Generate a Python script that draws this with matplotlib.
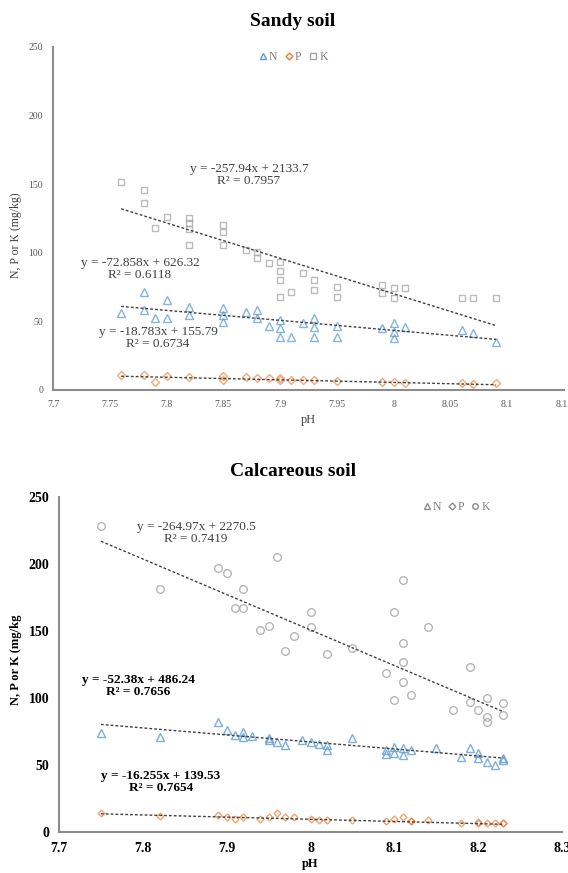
import numpy as np
import matplotlib.pyplot as plt
from matplotlib.lines import Line2D

plt.rcParams['font.family'] = ['Liberation Serif', 'DejaVu Serif']

W, H = 568, 873

# ---------------- Sandy soil ----------------
sandy_ph_n = [7.76, 7.78, 7.78, 7.79, 7.80, 7.80, 7.82, 7.82, 7.85, 7.85, 7.85, 7.87, 7.88, 7.88,
              7.89, 7.90, 7.90, 7.90, 7.91, 7.92, 7.93, 7.93, 7.93, 7.95, 7.95, 7.99, 8.00, 8.00,
              8.00, 8.01, 8.06, 8.07, 8.09]
sandy_n = [56, 71.6, 58, 52.5, 65.6, 52.5, 60.5, 55, 59.5, 55, 49.6, 57, 58, 52.5,
           47, 51, 45, 38.6, 38.6, 48.8, 52.5, 46, 38.6, 47, 38.6, 45, 48.8, 42.5,
           38, 46, 43.7, 41.5, 35]

sandy_ph_p = [7.76, 7.78, 7.79, 7.80, 7.82, 7.85, 7.85, 7.87, 7.88, 7.89, 7.90, 7.90, 7.91,
              7.92, 7.93, 7.95, 7.99, 8.00, 8.01, 8.06, 8.07, 8.09]
sandy_p = [11, 11, 6, 10, 9.5, 10, 7, 9.5, 9, 9, 8.5, 7, 7,
           7.3, 7, 6.5, 6, 5.8, 5, 5, 4.5, 5]

sandy_ph_k = [7.76, 7.78, 7.78, 7.79, 7.80, 7.82, 7.82, 7.82, 7.82, 7.85, 7.85, 7.85, 7.87,
              7.88, 7.88, 7.89, 7.90, 7.90, 7.90, 7.90, 7.91, 7.92, 7.93, 7.93, 7.95, 7.95,
              7.99, 7.99, 8.00, 8.00, 8.01, 8.06, 8.07, 8.09]
sandy_k = [151.6, 146, 136, 118, 126, 125, 122, 117, 106, 120, 115, 106, 102,
           100.6, 96, 92.5, 93, 87, 80, 68, 71.6, 85, 80, 73, 75, 68,
           76.5, 71, 74, 67, 74, 67, 67, 67]

# trendline coefficients (slope, intercept) and R² as printed
sandy_fit = {'N': (-72.858, 626.32, 0.6118),
             'P': (-18.783, 155.79, 0.6734),
             'K': (-257.94, 2133.7, 0.7957)}

# ---------------- Calcareous soil ----------------
calc_ph_n = [7.75, 7.82, 7.89, 7.90, 7.91, 7.92, 7.92, 7.93, 7.95, 7.95, 7.96, 7.97, 7.99,
             8.00, 8.01, 8.02, 8.02, 8.05, 8.09, 8.09, 8.10, 8.10, 8.11, 8.11, 8.12, 8.15,
             8.18, 8.19, 8.20, 8.20, 8.21, 8.22, 8.23, 8.23]
calc_n = [73.6, 71, 82, 76, 72.4, 74.8, 71, 72, 70, 68.7, 67, 65, 68.7,
          67, 66, 65, 61, 70, 61, 58, 63.7, 59, 57.5, 62.5, 61, 62.5,
          56, 62.5, 58.6, 55, 52.5, 50, 53.7, 55]

calc_ph_p = [7.75, 7.82, 7.89, 7.90, 7.91, 7.92, 7.94, 7.95, 7.96, 7.97, 7.98, 8.00, 8.01,
             8.02, 8.05, 8.09, 8.10, 8.11, 8.12, 8.12, 8.14, 8.18, 8.20, 8.20, 8.21, 8.22,
             8.23, 8.23]
calc_p = [14, 12, 12.7, 11, 10, 11.5, 10, 11.5, 14, 11, 11.4, 10, 9,
          9, 9, 8.2, 9.5, 11.4, 8, 8, 9, 7, 7, 7.5, 6.7, 7,
          6.7, 7]

calc_ph_k = [7.75, 7.82, 7.89, 7.90, 7.92, 7.91, 7.92, 7.96, 7.94, 7.95, 7.97, 7.98, 8.11,
             8.10, 8.00, 8.00, 8.14, 8.02, 8.05, 8.11, 8.11, 8.09, 8.11, 8.10, 8.12, 8.19,
             8.17, 8.19, 8.20, 8.21, 8.21, 8.21, 8.23, 8.23]
calc_k = [228, 181, 197, 193, 181, 167, 167, 205, 151, 154, 135, 146, 188,
          164, 164, 153, 153, 133, 137, 141, 127, 119, 112, 98.5, 102, 123,
          91, 97, 91, 86, 82, 100, 87, 96]

calc_fit = {'N': (-52.38, 486.24, 0.7656),
            'P': (-16.255, 139.53, 0.7654),
            'K': (-264.97, 2270.5, 0.7419)}

BLUE = '#5b9bd5'
ORANGE = '#ed7d31'
GRAY = '#a5a5a5'


def fx(px):
    return px / W


def fy(py):
    return 1 - py / H


def trend(ax, xs, fit):
    m, b, _ = fit
    xx = np.array([min(xs), max(xs)])
    ax.plot(xx, m * xx + b, color='#404040', lw=1.0, ls=(0, (2, 1.5)), zorder=3)


def style_axes(ax, xlim, xticks, xlabels, bold, tcolor, tsize):
    ax.set_xlim(*xlim)
    ax.set_ylim(0, 250)
    ax.set_xticks(xticks)
    ax.set_xticklabels(xlabels)
    ax.set_yticks([0, 50, 100, 150, 200, 250])
    for s in ['top', 'right']:
        ax.spines[s].set_visible(False)
    for s in ['left', 'bottom']:
        ax.spines[s].set_color('#8c8c8c')
        ax.spines[s].set_linewidth(1.5)
    ax.tick_params(length=0, pad=7, labelsize=tsize, colors=tcolor)
    w = 'bold' if bold else 'normal'
    for lab in ax.get_xticklabels() + ax.get_yticklabels():
        lab.set_fontweight(w)


fig = plt.figure(figsize=(W / 100, H / 100), dpi=100)

# ---- top panel ----
ax1 = fig.add_axes([fx(53), fy(390), fx(564) - fx(53), fy(47) - fy(390)])
ax1.plot(sandy_ph_k, sandy_k, ls='none', marker='s', ms=5, mfc='none', mec=GRAY, mew=1.0, alpha=0.75)
ax1.plot(sandy_ph_n, sandy_n, ls='none', marker='^', ms=5.5, mfc='none', mec=BLUE, mew=1.0, alpha=0.75)
ax1.plot(sandy_ph_p, sandy_p, ls='none', marker='D', ms=4.5, mfc='none', mec=ORANGE, mew=1.0, alpha=0.65)
trend(ax1, sandy_ph_k, sandy_fit['K'])
trend(ax1, sandy_ph_n, sandy_fit['N'])
trend(ax1, sandy_ph_p, sandy_fit['P'])
top_ticks = [7.7, 7.75, 7.8, 7.85, 7.9, 7.95, 8.0, 8.05, 8.1, 8.15]
style_axes(ax1, (7.7, 8.15), top_ticks,
           ['7.7', '7.75', '7.8', '7.85', '7.9', '7.95', '8', '8.05', '8.1', '8.15'],
           False, '#595959', 7)
ax1.set_xlabel('pH', fontsize=9, color='#404040', labelpad=4)
fig.text(fx(16), fy(235), 'N, P or K (mg/kg)', rotation=90, ha='center', va='center',
         fontsize=8.5, color='#404040')
fig.text(fx(293), fy(22), 'Sandy soil', ha='center', va='center', fontsize=14, fontweight='bold')

eq_col = '#404040'
for (m, b, r2), (cx, cy) in [(sandy_fit['K'], (249, 175)),
                             (sandy_fit['N'], (140, 269)),
                             (sandy_fit['P'], (158, 338))]:
    fig.text(fx(cx), fy(cy), f'y = {m}x + {b}\nR² = {r2:.4f}', ha='center', va='center',
             fontsize=9.5, color=eq_col, linespacing=1.05)

handles = [Line2D([], [], ls='none', marker='^', ms=4, mfc='none', mec=BLUE, label='N'),
           Line2D([], [], ls='none', marker='D', ms=3.5, mfc='none', mec=ORANGE, label='P'),
           Line2D([], [], ls='none', marker='s', ms=4, mfc='none', mec=GRAY, label='K')]
leg = fig.legend(handles=handles, loc='center', bbox_to_anchor=(fx(293), fy(57)), ncol=3,
                 frameon=False, fontsize=8.5, handlelength=0.8, handletextpad=0.1,
                 columnspacing=0.6)
for t in leg.get_texts():
    t.set_color('#7f7f7f')

# ---- bottom panel ----
ax2 = fig.add_axes([fx(59), fy(832), fx(562) - fx(59), fy(497) - fy(832)])
ax2.plot(calc_ph_k, calc_k, ls='none', marker='o', ms=5.5, mfc='none', mec=GRAY, mew=1.0, alpha=0.8)
ax2.plot(calc_ph_n, calc_n, ls='none', marker='^', ms=5.5, mfc='none', mec=BLUE, mew=1.0, alpha=0.8)
ax2.plot(calc_ph_p, calc_p, ls='none', marker='D', ms=3.5, mfc='none', mec=ORANGE, mew=1.0, alpha=0.7)
trend(ax2, calc_ph_k, calc_fit['K'])
trend(ax2, calc_ph_n, calc_fit['N'])
trend(ax2, calc_ph_p, calc_fit['P'])
style_axes(ax2, (7.7, 8.3), [7.7, 7.8, 7.9, 8.0, 8.1, 8.2, 8.3],
           ['7.7', '7.8', '7.9', '8', '8.1', '8.2', '8.3'], True, 'black', 10)
ax2.set_xlabel('pH', fontsize=9, fontweight='bold', labelpad=2)
fig.text(fx(16), fy(660), 'N, P or K (mg/kg', rotation=90, ha='center', va='center',
         fontsize=9, fontweight='bold')
fig.text(fx(293), fy(472), 'Calcareous soil', ha='center', va='center', fontsize=14,
         fontweight='bold')

for key, (cx, cy), wt, col in [('K', (196, 533), 'normal', '#404040'),
                               ('N', (138, 686), 'bold', 'black'),
                               ('P', (161, 782), 'bold', 'black')]:
    m, b, r2 = calc_fit[key]
    fig.text(fx(cx), fy(cy), f'y = {m}x + {b}\nR² = {r2:.4f}', ha='center', va='center',
             fontsize=9.5, color=col, fontweight=wt, linespacing=1.05)

handles2 = [Line2D([], [], ls='none', marker='^', ms=4, mfc='none', mec='#8c8c8c', label='N'),
            Line2D([], [], ls='none', marker='D', ms=3.5, mfc='none', mec='#8c8c8c', label='P'),
            Line2D([], [], ls='none', marker='o', ms=4, mfc='none', mec='#8c8c8c', label='K')]
leg2 = fig.legend(handles=handles2, loc='center', bbox_to_anchor=(fx(456), fy(507)), ncol=3,
                  frameon=False, fontsize=8.5, handlelength=0.8, handletextpad=0.1,
                  columnspacing=0.5)
for t in leg2.get_texts():
    t.set_color('#7f7f7f')

fig.savefig('out.png', dpi=100)
